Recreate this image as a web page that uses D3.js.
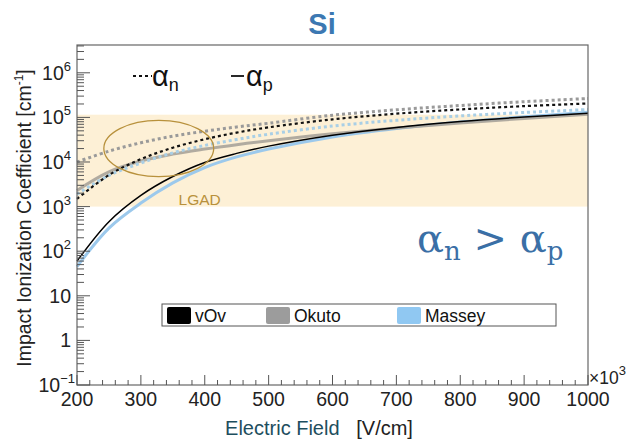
<!DOCTYPE html>
<html><head><meta charset="utf-8">
<script src="https://cdn.jsdelivr.net/npm/d3@7"></script>
<style>
body{margin:0;background:#fff;}
svg{font-family:"Liberation Sans",Arial,sans-serif;}
</style></head>
<body>
<svg id="c" width="634" height="442"></svg>
<script>
// Electric field (kV/cm) sample points
const field = [200, 250, 300, 350, 400, 450, 500, 600, 700, 800, 900, 1000];
// Impact ionization coefficients [cm^-1]
const vOv_n    = [1490, 5110, 11600, 20900, 32400, 45600, 59900, 90400, 121100, 150900, 179000, 205300];
const vOv_p    = [60, 459, 1785, 4720, 9750, 15590, 22700, 39900, 59700, 80900, 102300, 123500];
const okuto_n  = [10000, 17500, 27000, 38000, 49000, 61000, 74000, 112000, 148000, 185000, 225000, 265000];
const okuto_p  = [2300, 6000, 10500, 15000, 19500, 24500, 30000, 43000, 58000, 75000, 95000, 118000];
const massey_n = [1900, 5000, 9500, 16000, 23500, 32000, 42000, 64000, 86000, 108000, 129000, 150000];
const massey_p = [45, 330, 1200, 3400, 7500, 13000, 19500, 36500, 56500, 79000, 103000, 130000];

const xTicks = [200, 300, 400, 500, 600, 700, 800, 900, 1000];
const yTickVals = [0.1, 1, 10, 100, 1e3, 1e4, 1e5, 1e6];
const yTickLabels = [["10","\u22121"], ["1",""], ["10",""], ["10","2"], ["10","3"], ["10","4"], ["10","5"], ["10","6"]];
const legendNames = ["vOv", "Okuto", "Massey"];
const legendColors = ["#000000", "#9c9c9c", "#90c8f2"];
const lgadBand = [1000, 115000];

const svg = d3.select("#c");
const L = 77, R = 588, T = 45, B = 385;
const x = d3.scaleLinear().domain([200, 1000]).range([L, R]);
const y = d3.scaleLog().domain([0.1, 4.2e6]).range([B, T]);

// LGAD band
svg.append("rect").attr("x", x(200)).attr("width", x(1000) - x(200))
  .attr("y", y(lgadBand[1])).attr("height", y(lgadBand[0]) - y(lgadBand[1]))
  .attr("fill", "#fdf0d6");

const line = d3.line().x((d, i) => x(field[i])).y(d => y(d)).curve(d3.curveCatmullRom.alpha(0.5));
function draw(data, color, w, dash, op) {
  svg.append("path").datum(data).attr("d", line).attr("fill", "none")
    .attr("stroke", color).attr("stroke-width", w)
    .attr("stroke-dasharray", dash || null).attr("opacity", op || 1);
}
draw(massey_p, "#9cc9ec", 3);
draw(okuto_p, "#a8a39a", 3, null, 0.9);
draw(vOv_p, "#000", 1.5);
draw(massey_n, "#a9cfe6", 3, "3,3");
draw(okuto_n, "#9a9a9a", 3, "3,3");
draw(vOv_n, "#111", 2.2, "3,3");

// LGAD ellipse + label
const ec = [328, 2.0e4];
svg.append("ellipse").attr("cx", x(ec[0])).attr("cy", y(ec[1]))
  .attr("rx", x(ec[0] + 86) - x(ec[0])).attr("ry", (y(1) - y(10)) * 0.63)
  .attr("fill", "none").attr("stroke", "#b8913c").attr("stroke-width", 1.3);
svg.append("text").attr("x", x(392)).attr("y", y(1100)).attr("text-anchor", "middle")
  .attr("font-size", 15.5).attr("fill", "#b8913c").text("LGAD");

// frame
svg.append("rect").attr("x", L).attr("y", T).attr("width", R - L).attr("height", B - T)
  .attr("fill", "none").attr("stroke", "#666").attr("stroke-width", 1.2);

// x ticks
const xMinor = d3.range(200, 1001, 20);
svg.append("g").selectAll("line").data(xMinor).join("line")
  .attr("x1", d => x(d)).attr("x2", d => x(d)).attr("y1", B)
  .attr("y2", d => d % 100 === 0 ? B - 10 : B - 5).attr("stroke", "#555").attr("stroke-width", 1);
svg.append("g").selectAll("text").data(xTicks).join("text")
  .attr("x", d => x(d)).attr("y", 406).attr("text-anchor", "middle")
  .attr("font-size", 19.5).attr("fill", "#222").text(d => d);

// y ticks
const yMinor = [];
for (let e = -1; e <= 6; e++) for (let k = 1; k <= 9; k++) { const v = k * Math.pow(10, e); if (v <= 4.2e6) yMinor.push(v); }
svg.append("g").selectAll("line").data(yMinor).join("line")
  .attr("x1", L).attr("x2", d => Math.abs(Math.log10(d) - Math.round(Math.log10(d))) < 1e-9 ? L + 13 : L + 7)
  .attr("y1", d => y(d)).attr("y2", d => y(d)).attr("stroke", "#555").attr("stroke-width", 1);
const yl = svg.append("g").selectAll("text").data(yTickVals).join("text")
  .attr("x", (d, i) => i === 0 ? 75 : 71).attr("y", d => y(d) + 7).attr("text-anchor", "end")
  .attr("font-size", 19.5).attr("fill", "#222");
yl.each(function (d, i) {
  const t = d3.select(this), lab = yTickLabels[i];
  if (lab[1]) {
    t.append("tspan").text(lab[0]);
    t.append("tspan").attr("font-size", 13).attr("dy", -9).text(lab[1]);
  } else t.text(lab[0]);
});

// x10^3
const mx = svg.append("text").attr("x", 589).attr("y", 384).attr("font-size", 17.5).attr("fill", "#222");
mx.append("tspan").text("\u00d710");
mx.append("tspan").attr("font-size", 13).attr("dy", -9).text("3");

// axis titles
const xt = svg.append("text").attr("x", 319).attr("y", 435).attr("text-anchor", "middle").attr("font-size", 20);
xt.append("tspan").attr("fill", "#1d4e5e").text("Electric Field");
xt.append("tspan").attr("fill", "#222").attr("xml:space", "preserve").text("   [V/cm]");
const yt = svg.append("text").attr("transform", "translate(31,218) rotate(-90)").attr("text-anchor", "middle")
  .attr("font-size", 19.5).attr("fill", "#222");
yt.append("tspan").text("Impact Ionization Coefficient [cm");
yt.append("tspan").attr("font-size", 12).attr("dy", -8).text("-1");
yt.append("tspan").attr("dy", 8).text("]");

// title
svg.append("text").attr("x", 322).attr("y", 34).attr("text-anchor", "middle").attr("font-size", 29)
  .attr("font-weight", "bold").attr("fill", "#3c78b2").text("Si");

// top legend (line styles)
svg.append("line").attr("x1", 133).attr("x2", 152).attr("y1", 76).attr("y2", 76)
  .attr("stroke", "#111").attr("stroke-width", 2.2).attr("stroke-dasharray", "3,3");
const an = svg.append("text").attr("x", 152).attr("y", 86).attr("font-size", 29).attr("fill", "#111");
an.append("tspan").text("\u03b1"); an.append("tspan").attr("font-size", 18).attr("dy", 5).text("n");
svg.append("line").attr("x1", 231).attr("x2", 244).attr("y1", 76).attr("y2", 76)
  .attr("stroke", "#111").attr("stroke-width", 1.8);
const ap = svg.append("text").attr("x", 246).attr("y", 86).attr("font-size", 29).attr("fill", "#111");
ap.append("tspan").text("\u03b1"); ap.append("tspan").attr("font-size", 18).attr("dy", 5).text("p");

// big relation
const rel = svg.append("text").attr("x", 417).attr("y", 252).attr("font-size", 40)
  .attr("font-family", "'DejaVu Serif',serif").attr("fill", "#3a6fa6");
rel.append("tspan").text("\u03b1");
rel.append("tspan").attr("font-size", 26).attr("dy", 8).text("n");
rel.append("tspan").attr("dy", -8).attr("xml:space", "preserve").text(" > \u03b1");
rel.append("tspan").attr("font-size", 26).attr("dy", 8).text("p");

// bottom legend
const lg = svg.append("g");
lg.append("rect").attr("x", 162).attr("y", 304).attr("width", 394).attr("height", 22)
  .attr("fill", "#fff").attr("stroke", "#555").attr("stroke-width", 1);
const lx = [167, 266, 397];
legendNames.forEach((n, i) => {
  lg.append("rect").attr("x", lx[i]).attr("y", 307).attr("width", 24).attr("height", 17).attr("rx", 2)
    .attr("fill", legendColors[i]);
  lg.append("text").attr("x", lx[i] + 28).attr("y", 321.5).attr("font-size", 17.5).attr("fill", "#111").text(n);
});
</script>
</body></html>
